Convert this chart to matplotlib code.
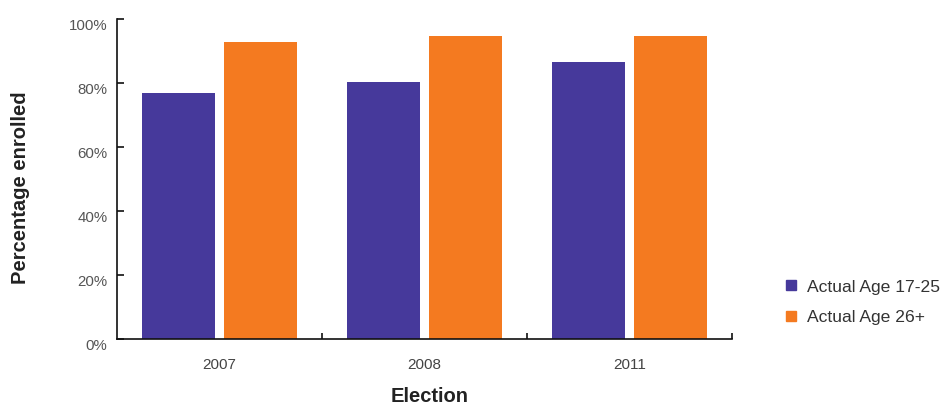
import matplotlib
matplotlib.use('Agg')
import matplotlib.pyplot as plt
import matplotlib.transforms as mtransforms
from matplotlib.lines import Line2D
import numpy as np

plt.rcParams['font.family'] = ['Liberation Sans', 'DejaVu Sans']

# Enrolment by election, percent
elections = ['2007', '2008', '2011']
age_17_25 = [77.0, 80.4, 86.7]
age_26_plus = [92.9, 94.8, 94.8]
series_labels = ['Actual Age 17-25', 'Actual Age 26+']
y_ticks = [0, 20, 40, 60, 80, 100]

BLUE = '#46399b'
ORANGE = '#f47a20'

fig = plt.figure(figsize=(9.46, 4.05), dpi=100)
ax = fig.add_axes([117 / 946, 1 - 339 / 405, 615 / 946, 320 / 405])

x = np.arange(len(elections))
width = 0.356
offset = 0.2
ax.bar(x - offset, age_17_25, width, color=BLUE)
ax.bar(x + offset, age_26_plus, width, color=ORANGE)

ax.set_xlim(-0.5, len(elections) - 0.5)
ax.set_ylim(0, 100)

# axes frame: left and bottom only, ticks pointing inward
for side in ['top', 'right']:
    ax.spines[side].set_visible(False)
for side in ['left', 'bottom']:
    ax.spines[side].set_linewidth(1.2)
    ax.spines[side].set_color('#111111')

ax.set_yticks(y_ticks)
ax.set_yticklabels([f'{v}%' for v in y_ticks])
ax.tick_params(axis='y', direction='in', length=5, width=1.2, pad=7,
               labelsize=10.8, labelcolor='#555555', color='#111111')

ax.set_xticks(x)
ax.set_xticklabels(elections)
ax.set_xticks(np.arange(0.5, len(elections)), minor=True)
ax.tick_params(axis='x', which='major', length=0, pad=14,
               labelsize=11, labelcolor='#444444')
ax.tick_params(axis='x', which='minor', direction='in', length=4, width=1.2,
               color='#111111')

# nudge y tick labels a little below their ticks
shift = mtransforms.ScaledTranslation(0, -6 / 100, fig.dpi_scale_trans)
for lab in ax.get_yticklabels():
    lab.set_transform(lab.get_transform() + shift)

fig.text(430 / 946, 1 - 397 / 405, 'Election', ha='center', va='center',
         fontsize=14.5, fontweight='bold', color='#222222')
fig.text(21 / 946, 1 - 188 / 405, 'Percentage enrolled', ha='center',
         va='center', rotation=90, fontsize=14.5, fontweight='bold',
         color='#222222')

handles = [Line2D([], [], marker='s', linestyle='none', markersize=6.5,
                  markerfacecolor=c, markeredgecolor=c)
           for c in (BLUE, ORANGE)]
fig.legend(handles, series_labels, loc='center left',
           bbox_to_anchor=(777 / 946, 1 - 302 / 405), frameon=False,
           fontsize=12.6, handlelength=0.8, handletextpad=0.5,
           labelspacing=0.85, labelcolor='#333333', borderaxespad=0)

fig.savefig('out.png', dpi=100, facecolor='white')
